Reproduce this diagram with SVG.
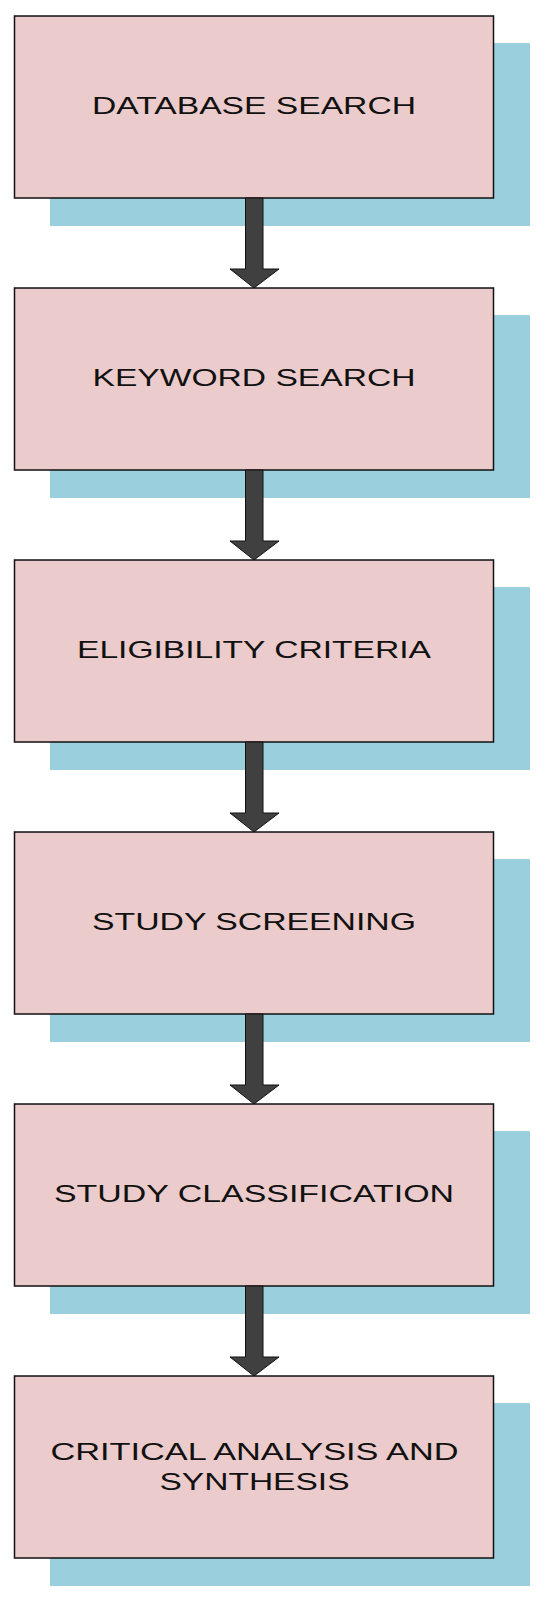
<svg xmlns="http://www.w3.org/2000/svg" width="550" height="1607" viewBox="0 0 550 1607">
<style>
.shadow{fill:#9ad0de}
.box{fill:#ebcbcb;stroke:#111;stroke-width:1.5}
.lbl{font-family:"Liberation Sans",Arial,sans-serif;font-size:24px;fill:#111;text-anchor:middle}
.arr{fill:#404040;stroke:#111;stroke-width:1}
</style>
<defs>
<polygon id="arrow" class="arr" points="245.5,0 263,0 263,71 279,71 254,90 230,71 245.5,71"/>
</defs>
<rect width="550" height="1607" fill="#fff"/>
<g id="n1"><rect class="shadow" x="50" y="43" width="480" height="183"/><rect class="box" x="14.5" y="16" width="479" height="182"/><text class="lbl" x="254" y="114" textLength="324" lengthAdjust="spacingAndGlyphs">DATABASE SEARCH</text></g>
<g id="n2"><rect class="shadow" x="50" y="315" width="480" height="183"/><rect class="box" x="14.5" y="288" width="479" height="182"/><text class="lbl" x="254" y="386" textLength="323" lengthAdjust="spacingAndGlyphs">KEYWORD SEARCH</text></g>
<g id="n3"><rect class="shadow" x="50" y="587" width="480" height="183"/><rect class="box" x="14.5" y="560" width="479" height="182"/><text class="lbl" x="254" y="658" textLength="354" lengthAdjust="spacingAndGlyphs">ELIGIBILITY CRITERIA</text></g>
<g id="n4"><rect class="shadow" x="50" y="859" width="480" height="183"/><rect class="box" x="14.5" y="832" width="479" height="182"/><text class="lbl" x="254" y="930" textLength="324" lengthAdjust="spacingAndGlyphs">STUDY SCREENING</text></g>
<g id="n5"><rect class="shadow" x="50" y="1131" width="480" height="183"/><rect class="box" x="14.5" y="1104" width="479" height="182"/><text class="lbl" x="254" y="1202" textLength="400" lengthAdjust="spacingAndGlyphs">STUDY CLASSIFICATION</text></g>
<g id="n6"><rect class="shadow" x="50" y="1403" width="480" height="183"/><rect class="box" x="14.5" y="1376" width="479" height="182"/><text class="lbl" x="254.5" y="1460" textLength="408" lengthAdjust="spacingAndGlyphs">CRITICAL ANALYSIS AND</text><text class="lbl" x="254.5" y="1490" textLength="190" lengthAdjust="spacingAndGlyphs">SYNTHESIS</text></g>
<g id="connectors">
<use href="#arrow" y="198"/>
<use href="#arrow" y="470"/>
<use href="#arrow" y="742"/>
<use href="#arrow" y="1014"/>
<use href="#arrow" y="1286"/>
</g>
</svg>
